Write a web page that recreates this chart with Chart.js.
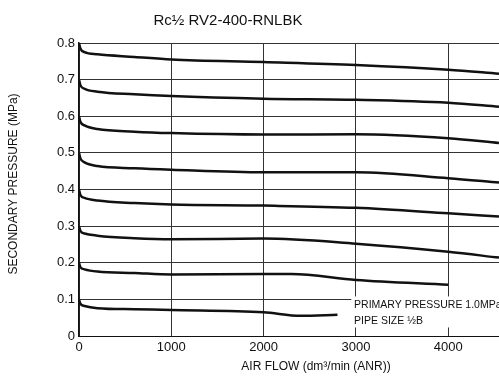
<!DOCTYPE html>
<html>
<head>
<meta charset="utf-8">
<script src="https://cdn.jsdelivr.net/npm/chart.js@4/dist/chart.umd.min.js"></script>
<style>
    html, body { margin: 0; padding: 0; background: #fff; }
    #wrap { width: 499px; height: 380px; position: relative; }
</style>
</head>
<body>
<div id="wrap"><canvas id="flowChart"></canvas></div>
<script>
// values
const flowTicks = [0, 1000, 2000, 3000, 4000];
const pressureTicks = [0, 0.1, 0.2, 0.3, 0.4, 0.5, 0.6, 0.7, 0.8];

const flowLong = [0, 15, 60, 200, 600, 1000, 2000, 3000, 4000, 4550];
const set08 = [0.8, 0.785, 0.775, 0.769, 0.762, 0.755, 0.748, 0.74, 0.727, 0.716];
const set07 = [0.7, 0.685, 0.675, 0.667, 0.66, 0.655, 0.648, 0.645, 0.637, 0.626];
const set06 = [0.6, 0.585, 0.575, 0.565, 0.558, 0.554, 0.55, 0.551, 0.54, 0.527];
const set05 = [0.5, 0.485, 0.474, 0.464, 0.458, 0.454, 0.447, 0.447, 0.431, 0.419];
const set04 = [0.4, 0.385, 0.377, 0.37, 0.363, 0.359, 0.356, 0.35, 0.335, 0.326];
const set03 = [0.3, 0.287, 0.28, 0.274, 0.267, 0.264, 0.266, 0.252, 0.23, 0.214];

const flow02 = [0, 15, 60, 200, 600, 1000, 2000, 2300, 3000, 4000];
const set02 = [0.2, 0.188, 0.182, 0.176, 0.172, 0.168, 0.169, 0.169, 0.153, 0.14];

const flow01 = [0, 15, 60, 200, 600, 1000, 2000, 2400, 2800];
const set01 = [0.1, 0.088, 0.082, 0.076, 0.073, 0.071, 0.065, 0.055, 0.058];

const curves = [
    [flowLong, set08], [flowLong, set07], [flowLong, set06], [flowLong, set05],
    [flowLong, set04], [flowLong, set03], [flow02, set02], [flow01, set01]
];

const inkColor = '#111';
const gridColor = '#333';
const fontFamily = '"Liberation Sans", Arial, sans-serif';

// texts that are not tied to the axes
const sheetText = {
    id: 'sheetText',
    beforeDatasetsDraw(chart) {
        const { ctx, chartArea } = chart;
        const x = chart.scales.x;
        const y = chart.scales.y;
        // white patch behind the note
        ctx.save();
        ctx.fillStyle = '#fff';
        ctx.fillRect(x.getPixelForValue(2950), y.getPixelForValue(0.108), chartArea.right, 31);
        ctx.restore();
    },
    afterDraw(chart) {
        const { ctx } = chart;
        const x = chart.scales.x;
        const y = chart.scales.y;
        ctx.save();
        ctx.fillStyle = inkColor;
        ctx.textBaseline = 'middle';

        ctx.font = '15px ' + fontFamily;
        ctx.textAlign = 'center';
        ctx.fillText('Rc½ RV2-400-RNLBK', 228, 21);

        ctx.font = '12px ' + fontFamily;
        ctx.fillText('AIR FLOW (dm³/min (ANR))', 316, 367);

        ctx.save();
        ctx.translate(14, 184);
        ctx.rotate(-Math.PI / 2);
        ctx.fillText('SECONDARY PRESSURE (MPa)', 0, 0);
        ctx.restore();

        ctx.textAlign = 'left';
        ctx.font = '10.5px ' + fontFamily;
        const noteX = x.getPixelForValue(2980);
        ctx.fillText('PRIMARY PRESSURE 1.0MPa', noteX, y.getPixelForValue(0.085));
        ctx.fillText('PIPE SIZE ½B', noteX, y.getPixelForValue(0.04));
        ctx.restore();
    }
};

new Chart(document.getElementById('flowChart'), {
    type: 'line',
    data: {
        datasets: curves.map(([xs, ys]) => ({
            data: xs.map((v, i) => ({ x: v, y: ys[i] })),
            borderColor: inkColor,
            borderWidth: 2.5,
            pointRadius: 0,
            fill: false,
            cubicInterpolationMode: 'monotone'
        }))
    },
    options: {
        responsive: true,
        maintainAspectRatio: false,
        animation: false,
        layout: { padding: { top: 43, right: 0, bottom: 0, left: 0 } },
        plugins: {
            legend: { display: false },
            tooltip: { enabled: false }
        },
        scales: {
            x: {
                type: 'linear',
                min: 0,
                max: 4550,
                afterBuildTicks: (axis) => { axis.ticks = flowTicks.map(v => ({ value: v })); },
                afterFit: (axis) => { axis.height = 44; },
                ticks: {
                    color: inkColor,
                    font: { family: fontFamily, size: 13 },
                    padding: 4,
                    maxRotation: 0,
                    callback: (v) => String(v)
                },
                grid: { color: gridColor, lineWidth: 1, drawTicks: false },
                border: { color: inkColor, width: 1 }
            },
            y: {
                min: 0,
                max: 0.8,
                afterBuildTicks: (axis) => { axis.ticks = pressureTicks.map(v => ({ value: v })); },
                afterFit: (axis) => { axis.width = 79; },
                ticks: {
                    color: inkColor,
                    font: { family: fontFamily, size: 13 },
                    padding: 4,
                    callback: (v) => String(Math.round(v * 10) / 10)
                },
                grid: { color: gridColor, lineWidth: 1, drawTicks: false },
                border: { color: inkColor, width: 1.5 }
            }
        }
    },
    plugins: [sheetText]
});
</script>
</body>
</html>
